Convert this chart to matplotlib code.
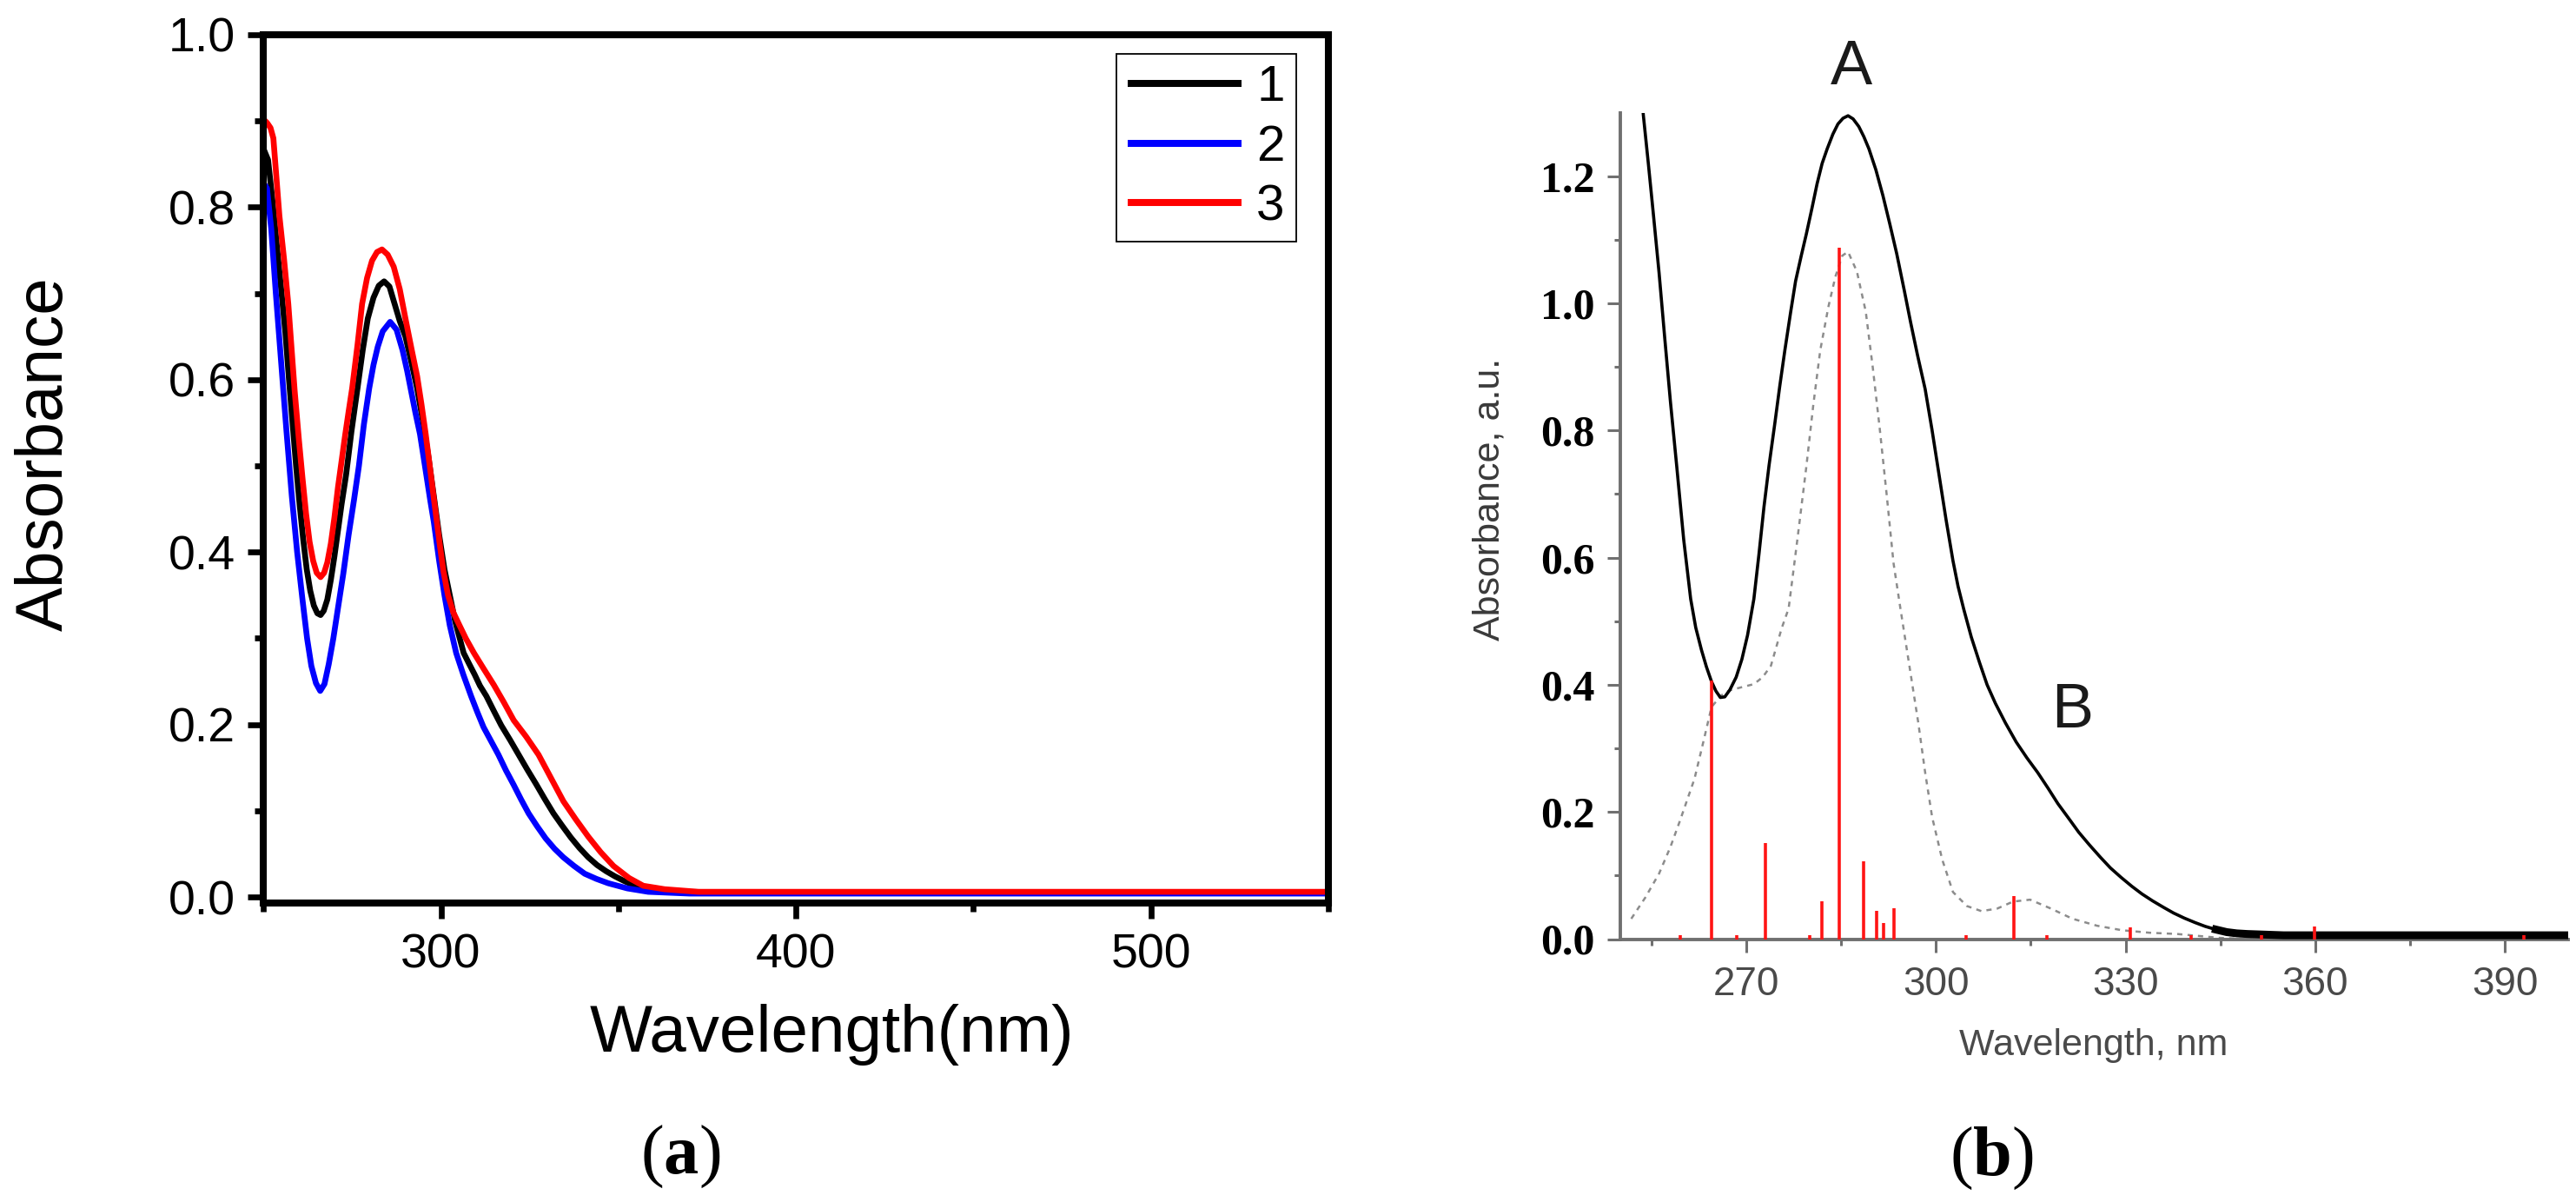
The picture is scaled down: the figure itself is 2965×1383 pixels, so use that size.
import matplotlib
matplotlib.use("Agg")
import matplotlib.pyplot as plt
from matplotlib.ticker import FixedLocator

plt.rcParams['mathtext.fontset'] = 'custom'
plt.rcParams['mathtext.rm'] = 'Liberation Serif'
plt.rcParams['mathtext.bf'] = 'Liberation Serif:bold'

# ---------------- Panel (a) data ----------------
wl_1 = [250.0, 251.3, 252.5, 253.8, 255.0, 256.2, 257.2, 258.2, 259.2, 260.2, 261.2, 262.2,
        263.2, 264.2, 265.2, 266.1, 267.0, 268.0, 269.0, 270.0, 271.0, 272.0, 273.3, 274.8,
        276.5, 278.0, 279.4, 281.0, 282.5, 284.0, 285.5, 286.8, 288.4, 290.0, 291.7, 293.3,
        295.0, 296.5, 298.0, 299.5, 301.0, 302.5, 304.0, 306.4, 308.0, 309.5, 311.0, 312.8,
        315.0, 317.0, 319.5, 321.9, 324.3, 326.8, 329.2, 331.7, 334.1, 336.6, 339.0, 341.5,
        344.0, 346.5, 349.0, 351.4, 354.0, 357.0, 361.0, 365.0, 400.0, 450.0, 500.0, 550.0]
abs_1 = [0.868, 0.855, 0.810, 0.755, 0.705, 0.654, 0.600, 0.550, 0.500, 0.455, 0.415, 0.380,
         0.355, 0.338, 0.329, 0.327, 0.332, 0.345, 0.368, 0.395, 0.425, 0.455, 0.490, 0.540,
         0.590, 0.635, 0.671, 0.695, 0.709, 0.714, 0.708, 0.690, 0.668, 0.650, 0.620, 0.590,
         0.550, 0.510, 0.465, 0.420, 0.380, 0.350, 0.320, 0.283, 0.270, 0.258, 0.245, 0.233,
         0.215, 0.199, 0.182, 0.165, 0.148, 0.131, 0.114, 0.097, 0.083, 0.069, 0.057, 0.046,
         0.037, 0.030, 0.024, 0.019, 0.014, 0.010, 0.007, 0.006, 0.005, 0.005, 0.005, 0.005]

wl_2 = [250.0, 251.0, 252.2, 253.5, 255.0, 256.5, 258.0, 259.5, 261.0, 262.3, 263.5, 264.8,
        266.0, 267.2, 268.4, 269.7, 271.0, 272.5, 274.0, 275.5, 276.9, 278.3, 279.8, 281.0,
        282.2, 283.6, 285.7, 287.5, 289.2, 290.5, 291.6, 292.8, 294.1, 295.5, 297.0, 298.0,
        299.5, 301.0, 302.5, 304.3, 306.3, 308.5, 310.2, 312.0, 314.1, 316.2, 318.3, 320.5,
        322.6, 324.7, 327.1, 329.5, 332.0, 334.5, 337.5, 340.5, 343.8, 347.1, 352.5, 358.4,
        370.0, 400.0, 450.0, 500.0, 550.0]
abs_2 = [0.828, 0.822, 0.775, 0.700, 0.620, 0.540, 0.465, 0.400, 0.345, 0.300, 0.268, 0.248,
         0.239, 0.247, 0.270, 0.300, 0.335, 0.375, 0.420, 0.460, 0.500, 0.548, 0.590, 0.617,
         0.638, 0.656, 0.667, 0.658, 0.634, 0.610, 0.587, 0.562, 0.537, 0.500, 0.460, 0.435,
         0.390, 0.350, 0.315, 0.283, 0.258, 0.233, 0.215, 0.197, 0.181, 0.165, 0.147, 0.130,
         0.113, 0.097, 0.082, 0.068, 0.056, 0.046, 0.036, 0.027, 0.021, 0.016, 0.010, 0.006,
         0.004, 0.004, 0.004, 0.004, 0.004]

wl_3 = [250.0, 251.0, 252.0, 252.8, 254.5, 255.8, 257.0, 258.8, 260.0, 261.0, 262.0, 263.0,
        264.0, 265.0, 266.1, 267.1, 268.0, 269.0, 270.0, 271.0, 272.0, 273.0, 274.0, 275.0,
        276.5, 277.8, 279.2, 280.6, 282.0, 283.4, 285.0, 286.7, 288.4, 290.0, 291.7, 293.3,
        294.5, 295.7, 296.7, 297.7, 298.7, 299.7, 300.7, 302.0, 303.5, 305.0, 307.0, 309.3,
        312.0, 314.9, 317.7, 320.5, 324.0, 327.5, 331.0, 334.5, 338.0, 341.5, 345.0, 348.6,
        353.0, 357.0, 363.0, 372.5, 400.0, 450.0, 500.0, 550.0]
abs_3 = [0.902, 0.898, 0.892, 0.880, 0.790, 0.740, 0.688, 0.587, 0.530, 0.486, 0.445, 0.412,
         0.390, 0.376, 0.371, 0.376, 0.388, 0.410, 0.440, 0.475, 0.505, 0.535, 0.563, 0.590,
         0.640, 0.688, 0.718, 0.738, 0.748, 0.751, 0.745, 0.731, 0.705, 0.671, 0.636, 0.604,
         0.572, 0.537, 0.505, 0.472, 0.440, 0.408, 0.378, 0.350, 0.330, 0.317, 0.300, 0.283,
         0.265, 0.246, 0.226, 0.205, 0.186, 0.165, 0.138, 0.111, 0.090, 0.070, 0.052, 0.036,
         0.022, 0.013, 0.009, 0.006, 0.006, 0.006, 0.006, 0.006]

series_labels = ["1", "2", "3"]
series_colors = ["#000000", "#0000ff", "#ff0000"]

# ---------------- Panel (b) data ----------------
exp_wl = [253.3, 253.7, 254.5, 255.3, 256.2, 257.1, 258.0, 259.0, 260.1, 261.2, 262.0, 262.9,
          263.7, 264.5, 265.2, 265.9, 266.6, 267.4, 268.4, 269.3, 270.2, 271.2, 272.0, 272.8,
          273.6, 274.5, 275.3, 276.1, 277.0, 277.8, 278.7, 279.5, 280.4, 281.2, 282.0, 282.8,
          283.7, 284.5, 285.3, 286.1, 286.9, 287.8, 288.6, 289.4, 290.5, 291.6, 292.7, 293.8,
          295.0, 296.0, 297.1, 298.3, 299.4, 300.5, 301.6, 302.7, 303.5, 304.4, 305.6, 306.9,
          308.1, 309.4, 311.0, 312.7, 314.4, 316.1, 317.7, 319.3, 321.0, 322.6, 324.3, 326.0,
          327.6, 329.3, 331.0, 332.6, 334.3, 336.0, 337.6, 339.3, 341.0, 342.6, 344.3, 346.0,
          347.6, 349.3, 355.0, 362.0, 370.0, 380.0, 390.0, 400.0]
exp_abs = [1.360, 1.297, 1.220, 1.140, 1.048, 0.945, 0.845, 0.743, 0.628, 0.535, 0.490, 0.455,
           0.428, 0.405, 0.390, 0.380, 0.381, 0.392, 0.412, 0.440, 0.478, 0.535, 0.605, 0.680,
           0.745, 0.810, 0.870, 0.926, 0.985, 1.035, 1.075, 1.109, 1.150, 1.188, 1.220, 1.243,
           1.266, 1.282, 1.291, 1.295, 1.290, 1.278, 1.262, 1.243, 1.210, 1.170, 1.125, 1.078,
           1.020, 0.970, 0.918, 0.865, 0.800, 0.730, 0.660, 0.595, 0.555, 0.519, 0.475, 0.435,
           0.400, 0.371, 0.340, 0.310, 0.285, 0.262, 0.238, 0.213, 0.190, 0.168, 0.148, 0.129,
           0.112, 0.097, 0.083, 0.071, 0.060, 0.050, 0.041, 0.033, 0.026, 0.020, 0.015, 0.011,
           0.009, 0.008, 0.006, 0.006, 0.006, 0.006, 0.006, 0.006]

calc_wl = [251.8, 254.0, 256.2, 258.0, 259.5, 261.8, 263.2, 264.5, 266.0, 267.3, 269.2, 271.2,
           272.6, 273.9, 275.6, 276.7, 278.1, 279.5, 280.6, 281.7, 283.0, 284.1, 285.2, 286.1,
           287.5, 288.9, 290.0, 291.1, 292.2, 293.3, 294.4, 295.8, 297.2, 298.3, 299.4, 301.0,
           302.7, 304.9, 307.2, 309.7, 312.2, 314.9, 318.2, 321.6, 325.5, 329.4, 333.8, 338.2,
           344.8, 350.0]
calc_abs = [0.032, 0.065, 0.103, 0.145, 0.186, 0.252, 0.310, 0.365, 0.383, 0.391, 0.396, 0.401,
            0.412, 0.430, 0.489, 0.520, 0.630, 0.743, 0.840, 0.926, 0.995, 1.042, 1.075, 1.081,
            1.050, 0.987, 0.900, 0.804, 0.700, 0.591, 0.519, 0.430, 0.341, 0.262, 0.192, 0.125,
            0.074, 0.052, 0.044, 0.048, 0.059, 0.062, 0.048, 0.032, 0.021, 0.014, 0.010, 0.008,
            0.002, 0.000]

stick_wl = [264.5, 273.0, 282.0, 284.7, 288.6, 290.6, 291.7, 293.4, 312.4, 330.7, 359.9,
            259.6, 268.5, 280.0, 304.8, 317.6, 340.4, 351.5, 393.0]
stick_f = [0.407, 0.151, 0.059, 1.087, 0.123, 0.045, 0.025, 0.048, 0.068, 0.018, 0.020,
           0.006, 0.006, 0.006, 0.006, 0.006, 0.006, 0.006, 0.006]

# ---------------- Figure ----------------
W, H = 2965, 1383
fig = plt.figure(figsize=(W / 100, H / 100), dpi=100)
fig.patch.set_facecolor("white")


def fx(px):
    return px / W


def fy(py):
    return 1 - py / H


SANS = ["Liberation Sans", "DejaVu Sans"]
SERIF = ["Liberation Serif", "DejaVu Serif"]

# ---- Panel (a) ----
ax1 = fig.add_axes([fx(303.2), fy(1039), fx(1529) - fx(303.2), fy(40) - fy(1039)])
for x, y, c, lab in zip([wl_1, wl_2, wl_3], [abs_1, abs_2, abs_3], series_colors, series_labels):
    ax1.plot(x, y, color=c, lw=4.8, label=lab, solid_joinstyle="round", solid_capstyle="butt")
ax1.set_xlim(250, 550)
ax1.set_ylim(-0.007, 1.0)
for s in ax1.spines.values():
    s.set_linewidth(5.8)
    s.set_color("black")
ax1.xaxis.set_major_locator(FixedLocator([300, 400, 500]))
ax1.xaxis.set_minor_locator(FixedLocator([250, 350, 450, 550]))
ax1.yaxis.set_major_locator(FixedLocator([0.0, 0.2, 0.4, 0.6, 0.8, 1.0]))
ax1.yaxis.set_minor_locator(FixedLocator([0.1, 0.3, 0.5, 0.7, 0.9]))
ax1.set_xticklabels(["300", "400", "500"])
ax1.set_yticklabels(["0.0", "0.2", "0.4", "0.6", "0.8", "1.0"])
ax1.tick_params(which="both", direction="out", top=False, right=False, width=4.8, color="black")
ax1.tick_params(which="major", length=13)
ax1.tick_params(which="minor", length=7)
ax1.tick_params(axis="x", which="major", pad=12)
ax1.tick_params(axis="y", which="major", pad=10)
for t in ax1.get_xticklabels() + ax1.get_yticklabels():
    t.set_fontfamily(SANS)
    t.set_fontsize(40)

leg = ax1.legend(loc="upper right", bbox_to_anchor=(fx(1491.6), fy(61.6)),
                 bbox_transform=fig.transFigure, frameon=True, fancybox=False,
                 edgecolor="black", framealpha=1, borderaxespad=0, borderpad=0.22,
                 handlelength=2.25, handletextpad=0.3, labelspacing=0.25,
                 prop={"family": SANS, "size": 42})
leg.get_frame().set_linewidth(1.3)
for ln in leg.get_lines():
    ln.set_linewidth(5.8)

fig.text(fx(957), fy(1210), "Wavelength(nm)", ha="center", va="baseline",
         family=SANS, fontsize=55)
fig.text(fx(52), fy(522), "Absorbance", ha="center", va="center", rotation=90,
         family=SANS, fontsize=55)
fig.text(fx(783), fy(1350), r"($\mathbf{a}$)", ha="center", va="baseline",
         family=SERIF, fontsize=58)

# ---- Panel (b) ----
ax2 = fig.add_axes([fx(1864.5), fy(1080.5), fx(2955.75) - fx(1864.5), fy(129.5) - fy(1080.5)])
ax2.plot(calc_wl, calc_abs, color="#8c8c8c", lw=1.8, linestyle=(0, (2.4, 2.4)), zorder=2)
ax2.plot(exp_wl, exp_abs, color="black", lw=2.6, zorder=3, solid_joinstyle="round")
tail = [i for i, w in enumerate(exp_wl) if w >= 344]
ax2.plot([exp_wl[i] for i in tail], [exp_abs[i] for i in tail], color="black", lw=6.5, zorder=3)
ax2.vlines(stick_wl, 0, stick_f, color="#ff1414", lw=2.6, zorder=4)
ax2.set_xlim(250, 400)
ax2.set_ylim(0, 1.3)
ax2.spines["top"].set_visible(False)
ax2.spines["right"].set_visible(False)
for k in ["left", "bottom"]:
    ax2.spines[k].set_color("#707070")
    ax2.spines[k].set_linewidth(2.8)
ax2.xaxis.set_major_locator(FixedLocator([270, 300, 330, 360, 390]))
ax2.xaxis.set_minor_locator(FixedLocator([255, 285, 315, 345, 375]))
ax2.yaxis.set_major_locator(FixedLocator([0.0, 0.2, 0.4, 0.6, 0.8, 1.0, 1.2]))
ax2.yaxis.set_minor_locator(FixedLocator([0.1, 0.3, 0.5, 0.7, 0.9, 1.1]))
ax2.set_xticklabels(["270", "300", "330", "360", "390"])
ax2.set_yticklabels(["0.0", "0.2", "0.4", "0.6", "0.8", "1.0", "1.2"])
ax2.tick_params(which="both", direction="out", color="#707070", width=2.2)
ax2.tick_params(which="major", length=11)
ax2.tick_params(which="minor", length=5)
ax2.tick_params(axis="x", which="major", pad=11, labelcolor="#4a4a4a")
ax2.tick_params(axis="y", which="major", pad=10, labelcolor="black")
for t in ax2.get_xticklabels():
    t.set_fontfamily(SANS)
    t.set_fontsize(33)
for t in ax2.get_yticklabels():
    t.set_fontfamily(SERIF)
    t.set_fontweight("bold")
    t.set_fontsize(36)

ax2.text(286.6, 1.345, "A", ha="center", va="baseline", family=SANS, fontsize=52,
         color="#1a1a1a", clip_on=False)
ax2.text(321.5, 0.333, "B", ha="center", va="baseline", family=SANS, fontsize=52,
         color="#1a1a1a")
fig.text(fx(2410), fy(1214), "Wavelength, nm", ha="center", va="baseline",
         family=SANS, fontsize=31, color="#4a4a4a")
fig.text(fx(1715), fy(574.5), "Absorbance, a.u.", ha="center", va="center", rotation=90,
         family=SANS, fontsize=31, color="#3a3a3a")
fig.text(fx(2292), fy(1352), r"($\mathbf{b}$)", ha="center", va="baseline",
         family=SERIF, fontsize=58)

fig.savefig("out.png", dpi=100, facecolor="white")
